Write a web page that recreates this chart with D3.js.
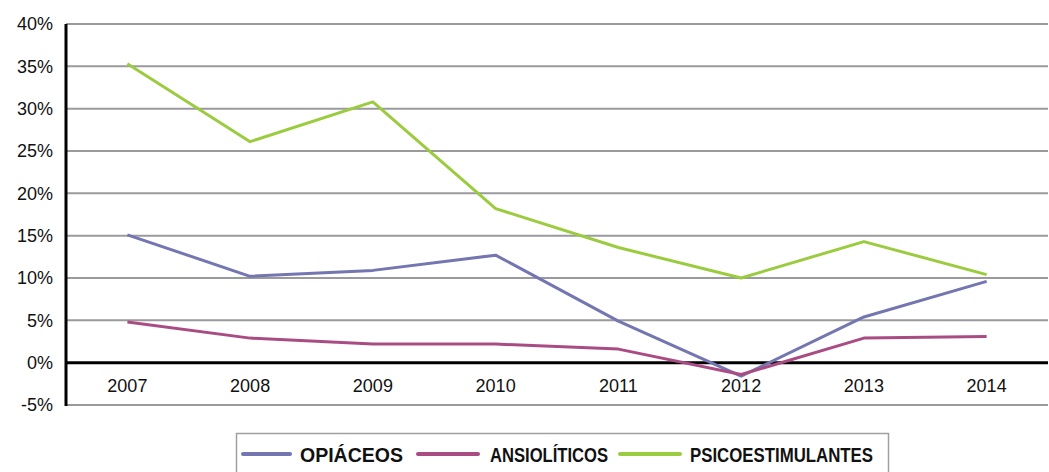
<!DOCTYPE html>
<meta charset="utf-8">
<html>
  <head>
    <script src="https://d3js.org/d3.v7.min.js"></script>
    <style>
      body { margin: 0; background: #fff; }
      svg text { font-family: "Liberation Sans", Arial, sans-serif; }
    </style>
  </head>
  <body>
    <svg id="chart" width="1049" height="472"></svg>
    <script>
    // data
    const years = ["2007", "2008", "2009", "2010", "2011", "2012", "2013", "2014"];
    const opiaceos = [15.1, 10.2, 10.9, 12.7, 4.9, -1.6, 5.4, 9.6];
    const ansioliticos = [4.8, 2.9, 2.2, 2.2, 1.6, -1.4, 2.9, 3.1];
    const psicoestimulantes = [35.3, 26.1, 30.8, 18.2, 13.6, 10.0, 14.3, 10.4];
    const yTicks = [-5, 0, 5, 10, 15, 20, 25, 30, 35, 40];
    const seriesNames = ["OPIÁCEOS", "ANSIOLÍTICOS", "PSICOESTIMULANTES"];
    const colors = ["#7376b0", "#aa4c84", "#9bcb3e"];

    const series = [opiaceos, ansioliticos, psicoestimulantes];

    var svg = d3.select("#chart");
    var plotLeft = 66, plotRight = 1048, plotTop = 24, plotBottom = 405;

    var x = d3.scaleBand().domain(years).range([plotLeft, plotRight]);
    var y = d3.scaleLinear().domain([-5, 40]).range([plotBottom, plotTop]);

    // gridlines
    svg.append("g")
      .selectAll("line")
      .data(yTicks.filter(d => d != 0))
      .enter()
      .append("line")
      .attr("x1", plotLeft).attr("x2", plotRight)
      .attr("y1", d => y(d)).attr("y2", d => y(d))
      .attr("stroke", "#9a9a9e")
      .attr("stroke-width", 2);

    // y axis labels
    var yAxis = svg.append("g")
      .attr("transform", "translate(" + plotLeft + ",0)")
      .call(d3.axisLeft(y).tickValues(yTicks).tickFormat(d => d + "%").tickSize(0).tickPadding(13));
    yAxis.select(".domain").remove();
    yAxis.selectAll("text")
      .attr("font-size", 18)
      .attr("fill", "#111")
      .style("font-family", "'Liberation Sans', Arial, sans-serif");

    // zero line and y axis line
    svg.append("line")
      .attr("x1", plotLeft).attr("x2", plotRight)
      .attr("y1", y(0)).attr("y2", y(0))
      .attr("stroke", "#000").attr("stroke-width", 3);
    svg.append("line")
      .attr("x1", plotLeft).attr("x2", plotLeft)
      .attr("y1", plotTop).attr("y2", plotBottom + 1)
      .attr("stroke", "#000").attr("stroke-width", 3);

    // x labels
    svg.append("g")
      .selectAll("text")
      .data(years)
      .enter()
      .append("text")
      .attr("x", d => x(d) + x.bandwidth() / 2)
      .attr("y", y(0) + 29)
      .attr("text-anchor", "middle")
      .attr("font-size", 18)
      .attr("fill", "#111")
      .text(d => d);

    // lines
    var line = d3.line()
      .x((d, i) => x(years[i]) + x.bandwidth() / 2)
      .y(d => y(d));

    svg.append("g")
      .selectAll("path")
      .data(series)
      .enter()
      .append("path")
      .attr("d", d => line(d))
      .attr("fill", "none")
      .attr("stroke", (d, i) => colors[i])
      .attr("stroke-width", 3)
      .attr("stroke-linejoin", "round");

    // legend
    var legend = svg.append("g");
    legend.append("rect")
      .attr("x", 236.5).attr("y", 433.5)
      .attr("width", 652).attr("height", 50)
      .attr("fill", "none")
      .attr("stroke", "#a0a0a0")
      .attr("stroke-width", 1.5);

    // [line start, line end, text start, text width]
    var legendX = [[243, 290, 300, 103], [418, 478, 490, 118], [620, 680, 690, 183]];
    seriesNames.forEach(function(name, i) {
      legend.append("line")
        .attr("x1", legendX[i][0]).attr("x2", legendX[i][1])
        .attr("y1", 454).attr("y2", 454)
        .attr("stroke", colors[i])
        .attr("stroke-width", 4)
        .attr("stroke-linecap", "round");
      legend.append("text")
        .attr("x", legendX[i][2])
        .attr("y", 462)
        .attr("font-size", 20)
        .attr("font-weight", "bold")
        .attr("textLength", legendX[i][3])
        .attr("lengthAdjust", "spacingAndGlyphs")
        .attr("fill", "#111")
        .text(name);
    });
    </script>
  </body>
</html>
